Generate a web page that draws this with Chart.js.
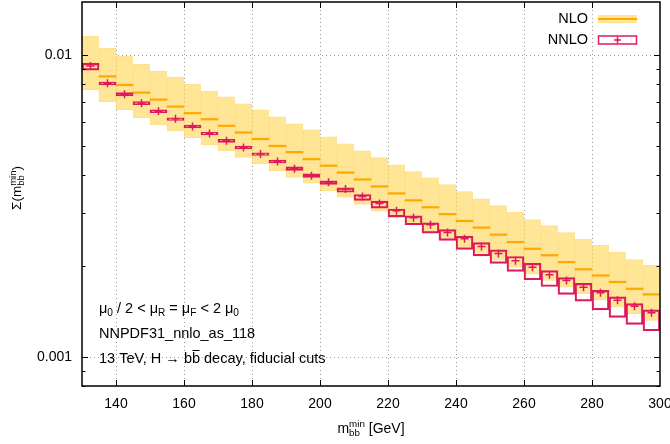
<!DOCTYPE html>
<html>
<head>
<meta charset="utf-8">
<script src="https://cdn.jsdelivr.net/npm/chart.js@4.4.1/dist/chart.umd.min.js"></script>
<style>
  html, body { margin: 0; padding: 0; background: #fff; }
</style>
</head>
<body>
<canvas id="sigmaChart" width="670" height="444"></canvas>
<script>
// lower edge of each m_bb^min bin [GeV], bins are 5 GeV wide
const binLow = [130, 135, 140, 145, 150, 155, 160, 165, 170, 175, 180, 185, 190, 195, 200, 205, 210,
                215, 220, 225, 230, 235, 240, 245, 250, 255, 260, 265, 270, 275, 280, 285, 290, 295];
const binWidth = 5;

// NLO: central value and scale band
const nloCentral = [0.00934, 0.00850, 0.00796, 0.00751, 0.00712, 0.00675, 0.00642, 0.00613, 0.00583, 0.00554,
                    0.00527, 0.00500, 0.00477, 0.00452, 0.00430, 0.00408, 0.00387, 0.00367, 0.00348, 0.00330,
                    0.00313, 0.00297, 0.00282, 0.00268, 0.00254, 0.00240, 0.00228, 0.00217, 0.00206, 0.00195,
                    0.00186, 0.00177, 0.00168, 0.00161];
const nloHigh = [0.01155, 0.01055, 0.00992, 0.00934, 0.00885, 0.00846, 0.00802, 0.00760, 0.00727, 0.00689,
                 0.00658, 0.00624, 0.00592, 0.00565, 0.00536, 0.00508, 0.00482, 0.00457, 0.00433, 0.00411,
                 0.00392, 0.00372, 0.00353, 0.00334, 0.00317, 0.00301, 0.00285, 0.00272, 0.00258, 0.00245,
                 0.00234, 0.00222, 0.00210, 0.00201];
const nloLow = [0.00766, 0.00701, 0.00658, 0.00619, 0.00587, 0.00561, 0.00533, 0.00504, 0.00482, 0.00458,
                0.00437, 0.00414, 0.00393, 0.00376, 0.00355, 0.00338, 0.00320, 0.00304, 0.00289, 0.00274,
                0.00260, 0.00247, 0.00231, 0.00220, 0.00209, 0.00198, 0.00188, 0.00179, 0.00170, 0.00162,
                0.00154, 0.00146, 0.00139, 0.00132];

// NNLO: central value and scale band
const nnloCentral = [0.00920, 0.00806, 0.00742, 0.00692, 0.00652, 0.00615, 0.00580, 0.00550, 0.00520, 0.00494,
                     0.00470, 0.00444, 0.00420, 0.00398, 0.00379, 0.00360, 0.00340, 0.00322, 0.00305, 0.00289,
                     0.00274, 0.00258, 0.00246, 0.00232, 0.00220, 0.00208, 0.00198, 0.00187, 0.00179, 0.00170,
                     0.00163, 0.00154, 0.00147, 0.00140];
const nnloHigh = [0.00939, 0.00814, 0.00751, 0.00701, 0.00658, 0.00619, 0.00586, 0.00555, 0.00526, 0.00499,
                  0.00474, 0.00449, 0.00426, 0.00404, 0.00383, 0.00363, 0.00345, 0.00328, 0.00309, 0.00293,
                  0.00278, 0.00264, 0.00251, 0.00239, 0.00226, 0.00215, 0.00204, 0.00193, 0.00183, 0.00175,
                  0.00166, 0.00158, 0.00150, 0.00143];
const nnloLow = [0.00892, 0.00796, 0.00732, 0.00685, 0.00645, 0.00608, 0.00574, 0.00544, 0.00514, 0.00489,
                 0.00465, 0.00439, 0.00415, 0.00393, 0.00373, 0.00351, 0.00330, 0.00311, 0.00291, 0.00274,
                 0.00257, 0.00243, 0.00227, 0.00216, 0.00204, 0.00192, 0.00180, 0.00171, 0.00161, 0.00153,
                 0.00143, 0.00135, 0.00128, 0.00122];

const xMin = 130, xMax = 300, xStep = 20;
const yMin = 0.0008, yMax = 0.015;
const yLabelled = [0.01, 0.001];

const FONT = '"Liberation Sans", Arial, Helvetica, sans-serif';
const BAND = 'rgb(255, 229, 150)';
const BAND_EDGE = 'rgba(255, 196, 40, 0.55)';
const ORANGE = 'rgb(255, 168, 0)';
const CRIMSON = 'rgb(222, 26, 90)';

const centers = binLow.map(v => v + binWidth / 2);
const lineHalf = 1.006; // thickness of the NLO central line (ratio on log axis)

function isDecade(v) {
  const l = Math.log10(v);
  return Math.abs(l - Math.round(l)) < 1e-6;
}

// text with sub/superscripts and overlines
function drawRich(ctx, parts, x, y, size, align) {
  const small = size * 0.7;
  const items = parts.map(p => {
    if (typeof p === 'string') {
      ctx.font = size + 'px ' + FONT;
      return { kind: 'txt', p, w: ctx.measureText(p).width };
    }
    if (p.over) {
      ctx.font = size + 'px ' + FONT;
      return { kind: 'over', p, w: ctx.measureText(p.over).width };
    }
    ctx.font = small + 'px ' + FONT;
    const w = Math.max(p.sub ? ctx.measureText(p.sub).width : 0, p.sup ? ctx.measureText(p.sup).width : 0);
    return { kind: 'script', p, w };
  });
  const total = items.reduce((s, it) => s + it.w, 0);
  let cx = align === 'center' ? x - total / 2 : x;
  ctx.textAlign = 'left';
  ctx.textBaseline = 'alphabetic';
  items.forEach(it => {
    if (it.kind === 'txt') {
      ctx.font = size + 'px ' + FONT;
      ctx.fillText(it.p, cx, y);
    } else if (it.kind === 'over') {
      ctx.font = size + 'px ' + FONT;
      ctx.fillText(it.p.over, cx, y);
      ctx.beginPath();
      ctx.lineWidth = 1;
      ctx.strokeStyle = ctx.fillStyle;
      ctx.moveTo(cx + 0.5, y - size * 0.86);
      ctx.lineTo(cx + it.w - 0.5, y - size * 0.86);
      ctx.stroke();
    } else {
      ctx.font = small + 'px ' + FONT;
      if (it.p.sub) ctx.fillText(it.p.sub, cx, y + size * 0.22);
      if (it.p.sup) ctx.fillText(it.p.sup, cx, y - size * 0.4);
    }
    cx += it.w;
  });
}

const framePlugin = {
  id: 'frame',
  beforeDatasetsDraw(chart) {
    const { ctx, chartArea: { left, right, top, bottom }, scales: { x, y } } = chart;
    ctx.save();
    ctx.strokeStyle = '#9a9a9a';
    ctx.lineWidth = 1;
    ctx.setLineDash([1, 3]);
    x.ticks.forEach(t => {
      if (t.value <= x.min || t.value >= x.max) return;
      const px = Math.round(x.getPixelForValue(t.value)) + 0.5;
      ctx.beginPath();
      ctx.moveTo(px, top);
      ctx.lineTo(px, bottom);
      ctx.stroke();
    });
    y.ticks.forEach(t => {
      if (!isDecade(t.value)) return;
      const py = Math.round(y.getPixelForValue(t.value)) + 0.5;
      ctx.beginPath();
      ctx.moveTo(left, py);
      ctx.lineTo(right, py);
      ctx.stroke();
    });
    ctx.restore();
  },
  afterDatasetsDraw(chart) {
    const { ctx, chartArea: { left, right, top, bottom }, scales: { x, y } } = chart;
    ctx.save();
    ctx.strokeStyle = '#000';
    ctx.lineWidth = 1;
    // tick marks, pointing inwards on all four sides
    x.ticks.forEach(t => {
      if (t.value <= x.min || t.value >= x.max) return;
      const px = Math.round(x.getPixelForValue(t.value)) + 0.5;
      ctx.beginPath();
      ctx.moveTo(px, bottom);
      ctx.lineTo(px, bottom - 6);
      ctx.moveTo(px, top);
      ctx.lineTo(px, top + 6);
      ctx.stroke();
    });
    y.ticks.forEach(t => {
      const e = Math.floor(Math.log10(t.value) + 1e-9);
      const m = t.value / Math.pow(10, e);
      if (Math.abs(m - Math.round(m)) > 1e-6) return;
      const len = Math.round(m) === 1 ? 6 : 3.5;
      const py = Math.round(y.getPixelForValue(t.value)) + 0.5;
      ctx.beginPath();
      ctx.moveTo(left, py);
      ctx.lineTo(left + len, py);
      ctx.moveTo(right, py);
      ctx.lineTo(right - len, py);
      ctx.stroke();
    });
    // frame
    ctx.lineWidth = 1.5;
    ctx.strokeRect(left, top, right - left, bottom - top);
    ctx.restore();
  },
  afterDraw(chart) {
    const { ctx, chartArea: { left, right, top, bottom } } = chart;
    ctx.save();
    ctx.fillStyle = '#000';

    // key
    const kx = right - 62, kw = 39;
    ctx.font = '14.5px ' + FONT;
    ctx.textAlign = 'right';
    ctx.textBaseline = 'middle';
    ctx.fillText(chart.data.datasets[0].label, kx - 10, top + 17);
    ctx.fillText(chart.data.datasets[2].label, kx - 10, top + 38);
    ctx.fillStyle = BAND;
    ctx.fillRect(kx, top + 13, kw, 8);
    ctx.strokeStyle = ORANGE;
    ctx.lineWidth = 2;
    ctx.beginPath();
    ctx.moveTo(kx, top + 17);
    ctx.lineTo(kx + kw, top + 17);
    ctx.stroke();
    ctx.strokeStyle = CRIMSON;
    ctx.lineWidth = 1.5;
    ctx.strokeRect(kx + 0.5, top + 34, kw - 1, 8);
    ctx.beginPath();
    ctx.moveTo(kx + kw / 2 - 3.5, top + 38);
    ctx.lineTo(kx + kw / 2 + 3.5, top + 38);
    ctx.moveTo(kx + kw / 2, top + 34.5);
    ctx.lineTo(kx + kw / 2, top + 41.5);
    ctx.stroke();

    // notes
    ctx.fillStyle = '#000';
    const nx = left + 17;
    drawRich(ctx, ['\u03bc', { sub: '0' }, ' / 2 < \u03bc', { sub: 'R' }, ' = \u03bc', { sub: 'F' }, ' < 2 \u03bc', { sub: '0' }],
      nx, bottom - 73, 14.5, 'left');
    drawRich(ctx, ['NNPDF31_nnlo_as_118'], nx, bottom - 48, 14.5, 'left');
    drawRich(ctx, ['13 TeV, H \u2192 b', { over: 'b' }, ' decay, fiducial cuts'], nx, bottom - 23, 14.5, 'left');

    // axis titles
    drawRich(ctx, ['m', { sub: 'bb', sup: 'min' }, ' [GeV]'], (left + right) / 2, bottom + 47, 14, 'center');
    ctx.translate(21, (top + bottom) / 2 - 6);
    ctx.rotate(-Math.PI / 2);
    drawRich(ctx, ['\u03a3(m', { sub: 'bb', sup: 'min' }, ')'], 0, 0, 13.5, 'center');
    ctx.restore();
  }
};

const ctx = document.getElementById('sigmaChart');
new Chart(ctx, {
  type: 'bar',
  data: {
    datasets: [
      {
        label: 'NLO',
        data: centers.map((c, i) => ({ x: c, y: [nloLow[i], nloHigh[i]] })),
        backgroundColor: BAND,
        borderColor: BAND_EDGE,
        borderWidth: { left: 1, right: 0, top: 1, bottom: 1 },
        borderSkipped: false,
        grouped: false,
        barPercentage: 1,
        categoryPercentage: 1,
        order: 4
      },
      {
        label: 'NLO central',
        data: centers.map((c, i) => ({ x: c, y: [nloCentral[i] / lineHalf, nloCentral[i] * lineHalf] })),
        backgroundColor: ORANGE,
        borderWidth: 0,
        grouped: false,
        barPercentage: 1,
        categoryPercentage: 1,
        order: 3
      },
      {
        label: 'NNLO',
        data: centers.map((c, i) => ({ x: c, y: [nnloLow[i], nnloHigh[i]] })),
        backgroundColor: 'rgba(0,0,0,0)',
        borderColor: CRIMSON,
        borderWidth: 1.5,
        borderSkipped: false,
        grouped: false,
        barPercentage: 1,
        categoryPercentage: 1,
        order: 2
      },
      {
        type: 'scatter',
        label: 'NNLO central',
        data: centers.map((c, i) => ({ x: c, y: nnloCentral[i] })),
        pointStyle: 'cross',
        pointRadius: 4,
        pointBorderWidth: 1.5,
        pointBorderColor: CRIMSON,
        showLine: false,
        order: 1
      }
    ]
  },
  options: {
    responsive: false,
    animation: false,
    events: [],
    layout: { autoPadding: false, padding: { left: 0, right: 10, top: 2, bottom: 0 } },
    plugins: {
      legend: { display: false },
      tooltip: { enabled: false }
    },
    scales: {
      x: {
        type: 'linear',
        min: xMin,
        max: xMax,
        offset: false,
        grid: { display: false, drawTicks: false },
        border: { display: false },
        ticks: {
          stepSize: xStep,
          includeBounds: false,
          padding: 10,
          color: '#000',
          font: { family: FONT, size: 14 },
          maxRotation: 0
        },
        afterFit(s) { s.height = 58; s.paddingLeft = 0; s.paddingRight = 0; }
      },
      y: {
        type: 'logarithmic',
        min: yMin,
        max: yMax,
        grid: { display: false, drawTicks: false },
        border: { display: false },
        ticks: {
          autoSkip: false,
          padding: 10,
          color: '#000',
          font: { family: FONT, size: 14 },
          callback: v => yLabelled.some(l => Math.abs(v - l) / l < 1e-6) ? String(+v.toPrecision(3)) : ''
        },
        afterFit(s) { s.width = 82; s.paddingTop = 0; s.paddingBottom = 0; }
      }
    }
  },
  plugins: [framePlugin]
});
</script>
</body>
</html>
